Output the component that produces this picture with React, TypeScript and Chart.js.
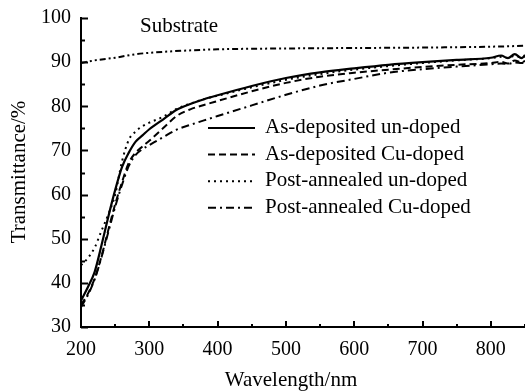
import React, { useEffect, useRef } from "react";
import { Chart, registerables } from "chart.js";

Chart.register(...registerables);

// Wavelengths (nm) for the sample curves
const wavelengths = [200, 210, 220, 230, 240, 250, 260, 270, 280, 290, 300, 320, 340, 360, 380, 400, 450, 500, 550, 600, 650, 700, 750, 800, 815, 825, 835, 845, 850];

const asDepUndoped = [36, 39, 42.5, 48.5, 55, 61, 66.2, 69.5, 72, 73.4, 74.8, 77, 79.2, 80.5, 81.6, 82.5, 84.6, 86.4, 87.7, 88.6, 89.4, 90, 90.5, 91, 91.5, 90.9, 91.8, 90.9, 91.6];
const asDepCuDoped = [35, 37.5, 41, 46, 52, 57.8, 62.8, 67.2, 69.5, 70.9, 72.2, 75, 77.8, 79.3, 80.3, 81.2, 83.4, 85.3, 86.7, 87.6, 88.3, 88.9, 89.4, 89.8, 90.1, 89.7, 90.4, 89.9, 90.3];
const postAnnUndoped = [44, 45.6, 48, 51.8, 55.5, 60, 67.5, 72.4, 74.3, 75.5, 76.3, 77.6, 79.4, 80.6, 81.6, 82.4, 84.3, 86, 87.3, 88.3, 89.1, 89.8, 90.4, 90.9, 91.2, 91, 91.4, 91.1, 91.3];
const postAnnCuDoped = [34.5, 37.2, 40.8, 45.8, 51.5, 57.2, 62.2, 66.5, 69, 70.3, 71.2, 73, 74.7, 75.8, 76.8, 77.8, 80.2, 82.6, 84.7, 86.2, 87.6, 88.4, 89, 89.5, 89.7, 89.6, 89.9, 89.8, 89.9];

const substrateWl = [200, 220, 250, 280, 300, 350, 400, 500, 600, 700, 800, 850];
const substrate = [89.8, 90.4, 91.0, 91.8, 92.1, 92.6, 92.9, 93.1, 93.2, 93.3, 93.5, 93.7];

const xTickValues = [200, 300, 400, 500, 600, 700, 800];
const yTickValues = [30, 40, 50, 60, 70, 80, 90, 100];

const legendLabels = ["As-deposited un-doped", "As-deposited Cu-doped", "Post-annealed un-doped", "Post-annealed Cu-doped"];
const substrateLabel = "Substrate";
const xTitle = "Wavelength/nm";
const yTitle = "Transmittance/%";

const FONT = "'Liberation Serif', 'Times New Roman', serif";

const pts = (xs: number[], ys: number[]) => xs.map((x, i) => ({ x, y: ys[i] }));

export default function App() {
  const ref = useRef<HTMLCanvasElement | null>(null);

  useEffect(() => {
    if (!ref.current) return;

    const decorPlugin = {
      id: "decor",
      afterDraw(chart: any) {
        const ctx = chart.ctx as CanvasRenderingContext2D;
        const xs = chart.scales.x;
        const ys = chart.scales.y;
        const area = chart.chartArea;
        ctx.save();
        ctx.strokeStyle = "#000";
        ctx.lineWidth = 2;
        ctx.setLineDash([]);
        // y ticks (inward)
        for (let v = 30; v <= 100; v += 5) {
          const py = Math.round(ys.getPixelForValue(v)) + 0.5;
          const len = v % 10 === 0 ? 7 : 4;
          ctx.beginPath();
          ctx.moveTo(area.left, py);
          ctx.lineTo(area.left + len, py);
          ctx.stroke();
        }
        // x ticks (inward)
        for (let v = 200; v <= 850; v += 50) {
          const px = Math.round(xs.getPixelForValue(v));
          const len = v % 100 === 0 ? 6 : 3;
          ctx.beginPath();
          ctx.moveTo(px, area.bottom);
          ctx.lineTo(px, area.bottom - len);
          ctx.stroke();
        }
        // texts
        ctx.fillStyle = "#000";
        ctx.font = `21px ${FONT}`;
        ctx.textBaseline = "alphabetic";
        ctx.textAlign = "left";
        ctx.fillText(substrateLabel, 140, 32);

        ctx.textAlign = "center";
        ctx.fillText(xTitle, 291, 386);

        ctx.save();
        ctx.translate(25, 172);
        ctx.rotate(-Math.PI / 2);
        ctx.textAlign = "center";
        ctx.fillText(yTitle, 0, 0);
        ctx.restore();

        // legend
        const ds = chart.data.datasets;
        for (let i = 0; i < 4; i++) {
          const d = ds[i];
          const base = 133 + i * 26.6;
          const ly = base - 5;
          ctx.save();
          ctx.strokeStyle = "#000";
          ctx.lineWidth = d.borderWidth;
          ctx.setLineDash(d.borderDash || []);
          ctx.beginPath();
          ctx.moveTo(208, ly);
          ctx.lineTo(255, ly);
          ctx.stroke();
          ctx.restore();
          ctx.textAlign = "left";
          ctx.fillText(legendLabels[i], 265, base);
        }
        ctx.restore();
      },
    };

    const common = {
      pointRadius: 0,
      borderColor: "#000",
      backgroundColor: "#000",
      fill: false,
      cubicInterpolationMode: "monotone" as const,
    };

    const chart = new Chart(ref.current, {
      type: "line",
      data: {
        datasets: [
          { ...common, label: legendLabels[0], data: pts(wavelengths, asDepUndoped), borderWidth: 2.2, borderDash: [] },
          { ...common, label: legendLabels[1], data: pts(wavelengths, asDepCuDoped), borderWidth: 2, borderDash: [7, 4] },
          { ...common, label: legendLabels[2], data: pts(wavelengths, postAnnUndoped), borderWidth: 2, borderDash: [2, 4] },
          { ...common, label: legendLabels[3], data: pts(wavelengths, postAnnCuDoped), borderWidth: 2, borderDash: [8, 4, 2, 4] },
          { ...common, label: substrateLabel, data: pts(substrateWl, substrate), borderWidth: 2, borderDash: [6, 3, 2, 3, 2, 3] },
        ],
      },
      plugins: [decorPlugin],
      options: {
        responsive: false,
        animation: false,
        layout: { padding: { left: 0, right: 0, top: 18, bottom: 0 } },
        plugins: { legend: { display: false }, tooltip: { enabled: false } },
        scales: {
          x: {
            type: "linear",
            min: 200,
            max: 850,
            grid: { display: false },
            border: { display: true, color: "#000", width: 2 },
            afterBuildTicks: (s: any) => {
              s.ticks = xTickValues.map((value) => ({ value }));
            },
            ticks: {
              color: "#000",
              padding: 3,
              maxRotation: 0,
              autoSkip: false,
              font: { family: FONT, size: 20 },
            },
            afterFit: (s: any) => {
              s.height = 65;
              s.paddingLeft = 0;
              s.paddingRight = 0;
            },
          },
          y: {
            type: "linear",
            min: 30,
            max: 100,
            grid: { display: false },
            border: { display: true, color: "#000", width: 2 },
            afterBuildTicks: (s: any) => {
              s.ticks = yTickValues.map((value) => ({ value }));
            },
            ticks: {
              color: "#000",
              padding: 2,
              autoSkip: false,
              font: { family: FONT, size: 20 },
            },
            afterFit: (s: any) => {
              s.width = 81;
              s.paddingTop = 0;
              s.paddingBottom = 0;
            },
          },
        },
      },
    });

    return () => chart.destroy();
  }, []);

  return (
    <div style={{ position: "absolute", left: 0, top: 0, width: 525, height: 392, background: "#fff" }}>
      <canvas ref={ref} width={525} height={392} style={{ display: "block" }} />
    </div>
  );
}
